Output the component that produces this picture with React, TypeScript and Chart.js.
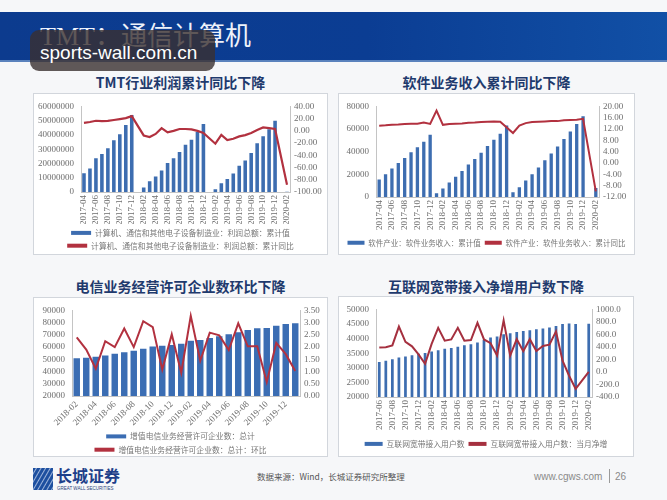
import React, { useEffect, useRef } from 'react';
import { Chart, registerables } from 'chart.js';

Chart.register(...registerables);

// ---------- Chart 1 & 2 categories ----------
const monthsA = ['2017-04','2017-05','2017-06','2017-07','2017-08','2017-09','2017-10','2017-11','2017-12','2018-01','2018-02','2018-03','2018-04','2018-05','2018-06','2018-07','2018-08','2018-09','2018-10','2018-11','2018-12','2019-01','2019-02','2019-03','2019-04','2019-05','2019-06','2019-07','2019-08','2019-09','2019-10','2019-11','2019-12','2020-01','2020-02'];

// ---------- Chart 1: TMT profit ----------
const tmtProfitCum = [13100000, 16400000, 23600000, 26700000, 30700000, 36200000, 40400000, 46900000, 54000000, null, 3100000, 7600000, 10900000, 15100000, 20400000, 23600000, 28000000, 33100000, 36700000, 42000000, 47700000, null, 2000000, 6200000, 9100000, 12900000, 18400000, 22000000, 27300000, 34200000, 39100000, 44000000, 50000000, null, 240000];
const tmtProfitYoY = [13, 14.5, 16.5, 15.8, 16.2, 17.8, 19.3, 20.8, 24, null, -7.5, -10, -5, 4.5, -2.5, 0, 3, 3, 2.5, 0, -3.5, null, -21, -6.5, -15, -13, -9, -7, -3.5, 1.5, 5.5, 4.5, 3, null, -88];
const tmtNames = ['计算机、通信和其他电子设备制造业：利润总额：累计值', '计算机、通信和其他电子设备制造业：利润总额：累计同比'];

// ---------- Chart 2: software revenue ----------
const softwareCum = [15500, 20100, 25200, 30100, 34400, 39600, 43900, 48700, 55000, 3400, 7500, 12900, 17800, 22900, 28700, 33500, 39000, 45000, 50500, 55900, 63100, 4300, 8600, 14600, 20100, 26100, 32400, 38400, 44700, 51300, 57900, 64500, 71400, null, 8000];
const softwareYoY = [13.2, 13.3, 13.5, 13.6, 13.8, 13.9, 13.9, 14.3, 13.8, 18.5, 13.5, 13.8, 13.9, 14.0, 14.2, 14.3, 14.5, 14.6, 14.7, 14.6, null, 10.6, 13.2, 14.1, 14.5, 14.6, 14.7, 14.8, 14.8, 15.1, 15.2, 15.3, 15.6, null, -10];
const softwareNames = ['软件产业：软件业务收入：累计值', '软件产业：软件业务收入：累计同比'];

// ---------- Chart 3: telecom licences ----------
const monthsC = ['2018-02','2018-03','2018-04','2018-05','2018-06','2018-07','2018-08','2018-09','2018-10','2018-11','2018-12','2019-01','2019-02','2019-03','2019-04','2019-05','2019-06','2019-07','2019-08','2019-09','2019-10','2019-11','2019-12','2020-01'];
const licenceTotal = [50800, 51300, 52100, 53100, 54500, 55800, 57100, 58700, 60500, 61000, 61800, 62800, 65200, 65700, 67500, 68800, 70400, 72200, 74000, 75400, 75600, 77500, 78800, 79400];
const licenceMoM = [2.4, 1.9, 1.12, 2.24, 2.0, 2.76, 2.0, 3.06, 2.82, 1.08, 2.52, 0.95, 3.28, 1.44, 2.59, 2.48, 1.88, 2.97, 2.03, 2.03, 0.57, 2.17, 1.71, 1.02];
const licenceNames = ['增值电信业务经营许可企业数：总计', '增值电信业务经营许可企业数：总计：环比'];

// ---------- Chart 4: broadband ----------
const monthsD = ['2017-06','2017-07','2017-08','2017-09','2017-10','2017-11','2017-12','2018-01','2018-02','2018-03','2018-04','2018-05','2018-06','2018-07','2018-08','2018-09','2018-10','2018-11','2018-12','2019-01','2019-02','2019-03','2019-04','2019-05','2019-06','2019-07','2019-08','2019-09','2019-10','2019-11','2019-12','2020-01','2020-02'];
const broadbandUsers = [32000, 32400, 32900, 33500, 33900, 34300, 34854, 35100, 35600, 36000, 36500, 36800, 37200, 37700, 38100, 38700, 39600, 40400, 40738, 41500, 41800, 42300, 42600, 42900, 43200, 43500, 43800, 44300, 45000, 45200, 45000, null, 45100];
const broadbandNetAdds = [390, 395, 425, 725, 480, 410, 280, 130, 450, 705, 500, 520, 705, 500, 510, 785, 520, 460, 262, 825, 262, 524, 331, 524, 335, 415, 436, 648, 180, -60, -270, null, 2];
const broadbandNames = ['互联网宽带接入用户数', '互联网宽带接入用户数：当月净增'];

const TICK_FONT = { family: "'Liberation Serif', 'Times New Roman', serif", size: 9 };
const LEGEND_FONT_FAMILY = "'Noto Sans CJK SC', sans-serif";
const TICK_COLOR = '#6e6e6e';
const AXIS_COLOR = '#c4c4c4';

type Spec = {
  labels: string[];
  bars: (number | null)[];
  line: (number | null)[];
  names: string[];
  barColor: string;
  lineColor: string;
  lineWidth: number;
  barPct: number;
  left: [number, number, number];
  right: [number, number, number, number];
  leftW: number;
  rightW: number;
  xH: number;
  padTop: number;
  legendMaxH: number;
  legendPad: number;
  legendFont: number;
  legendBoxW: number;
  rotation: number;
};

function buildConfig(s: Spec): any {
  const bars = s.bars;
  return {
    type: 'bar',
    data: {
      labels: s.labels,
      datasets: [
        {
          type: 'bar',
          label: s.names[0],
          data: s.bars,
          backgroundColor: s.barColor,
          borderWidth: 0,
          yAxisID: 'y',
          categoryPercentage: 0.8,
          barPercentage: s.barPct,
          order: 2,
        },
        {
          type: 'line',
          label: s.names[1],
          data: s.line,
          borderColor: s.lineColor,
          backgroundColor: s.lineColor,
          borderWidth: s.lineWidth,
          pointRadius: 0,
          tension: 0,
          spanGaps: true,
          yAxisID: 'y1',
          order: 1,
          segment: {
            borderColor: (ctx: any) => {
              for (let k = ctx.p0DataIndex + 1; k < ctx.p1DataIndex; k++) {
                if (bars[k] !== null && bars[k] !== undefined) return 'rgba(0,0,0,0)';
              }
              return s.lineColor;
            },
          },
        },
      ],
    },
    options: {
      responsive: false,
      animation: false,
      layout: { padding: { top: s.padTop, left: 0, right: 0, bottom: 0 } },
      plugins: {
        tooltip: { enabled: false },
        legend: {
          position: 'bottom',
          maxHeight: s.legendMaxH,
          labels: {
            font: { family: LEGEND_FONT_FAMILY, size: s.legendFont },
            color: '#777777',
            boxWidth: s.legendBoxW,
            boxHeight: 4,
            padding: s.legendPad,
            sort: (a: any, b: any) => a.datasetIndex - b.datasetIndex,
            generateLabels: (chart: any) =>
              Chart.defaults.plugins.legend.labels
                .generateLabels(chart)
                .map((l: any) => ({ ...l, lineWidth: 0 })),
          },
        },
      },
      scales: {
        x: {
          grid: { display: false, drawTicks: false },
          border: { display: true, color: AXIS_COLOR },
          ticks: {
            autoSkip: false,
            minRotation: s.rotation,
            maxRotation: s.rotation,
            padding: 3,
            font: TICK_FONT,
            color: TICK_COLOR,
            callback: function (this: any, v: any, i: number) {
              return i % 2 === 0 ? this.getLabelForValue(v) : '';
            },
          },
          afterFit: (sc: any) => {
            sc.height = s.xH;
          },
        },
        y: {
          position: 'left',
          min: s.left[0],
          max: s.left[1],
          grid: { display: false, drawTicks: false },
          border: { display: true, color: AXIS_COLOR },
          ticks: {
            stepSize: s.left[2],
            autoSkip: false,
            padding: 7,
            font: TICK_FONT,
            color: TICK_COLOR,
            callback: (v: any) => String(v),
          },
          afterFit: (sc: any) => {
            sc.width = s.leftW;
          },
        },
        y1: {
          position: 'right',
          min: s.right[0],
          max: s.right[1],
          grid: { display: false, drawTicks: false },
          border: { display: true, color: AXIS_COLOR },
          ticks: {
            stepSize: s.right[2],
            autoSkip: false,
            padding: 4,
            font: TICK_FONT,
            color: TICK_COLOR,
            callback: (v: any) => Number(v).toFixed(s.right[3]),
          },
          afterFit: (sc: any) => {
            sc.width = s.rightW;
          },
        },
      },
    },
  };
}

const spec1: Spec = {
  labels: monthsA, bars: tmtProfitCum, line: tmtProfitYoY, names: tmtNames,
  barColor: '#3d6db0', lineColor: '#b2313f', lineWidth: 2.2, barPct: 0.75,
  left: [0, 60000000, 10000000], right: [-100, 40, 20, 2],
  leftW: 47, rightW: 37, xH: 32, padTop: 8, legendMaxH: 30, legendPad: 5, legendFont: 7.8, legendBoxW: 20, rotation: 90,
};
const spec2: Spec = {
  labels: monthsA, bars: softwareCum, line: softwareYoY, names: softwareNames,
  barColor: '#3d6db0', lineColor: '#b2313f', lineWidth: 2, barPct: 0.65,
  left: [0, 80000, 20000], right: [-12, 20, 4, 2],
  leftW: 37, rightW: 35, xH: 38, padTop: 10, legendMaxH: 19, legendPad: 4, legendFont: 7.5, legendBoxW: 17, rotation: 90,
};
const spec3: Spec = {
  labels: monthsC, bars: licenceTotal, line: licenceMoM, names: licenceNames,
  barColor: '#3b6db3', lineColor: '#b2313f', lineWidth: 2, barPct: 0.85,
  left: [20000, 90000, 10000], right: [0, 3.5, 0.5, 2],
  leftW: 38, rightW: 27, xH: 31, padTop: 9, legendMaxH: 29, legendPad: 5.5, legendFont: 7.8, legendBoxW: 20, rotation: 45,
};
const spec4: Spec = {
  labels: monthsD, bars: broadbandUsers, line: broadbandNetAdds, names: broadbandNames,
  barColor: '#3d6db0', lineColor: '#a5303f', lineWidth: 2, barPct: 0.52,
  left: [20000, 50000, 5000], right: [-400, 1000, 200, 1],
  leftW: 37, rightW: 41, xH: 39, padTop: 10, legendMaxH: 20, legendPad: 4, legendFont: 7.8, legendBoxW: 18, rotation: 90,
};

function ChartBox(props: { spec: Spec; left: number; top: number; width: number; height: number }) {
  const { spec, left, top, width, height } = props;
  const ref = useRef<HTMLCanvasElement>(null);
  useEffect(() => {
    const chart = new Chart(ref.current as HTMLCanvasElement, buildConfig(spec));
    return () => chart.destroy();
  }, []);
  return (
    <div
      style={{
        position: 'absolute', left, top, width, height, boxSizing: 'border-box',
        border: '1px solid #d2d6dc', background: '#ffffff',
      }}
    >
      <canvas ref={ref} width={width - 2} height={height - 2} style={{ display: 'block', width: width - 2, height: height - 2 }} />
    </div>
  );
}

function PanelTitle(props: { text: string; left: number; top: number; width: number }) {
  return (
    <div
      style={{
        position: 'absolute', left: props.left, top: props.top, width: props.width, textAlign: 'center',
        fontFamily: "'Noto Sans CJK SC', sans-serif", fontWeight: 700, fontSize: 14, lineHeight: '16px',
        color: '#1f3a6d', whiteSpace: 'nowrap',
      }}
    >
      {props.text}
    </div>
  );
}

export default function App() {
  return (
    <div style={{ position: 'fixed', left: 0, top: 0, width: 667, height: 500, background: '#f6f7f9', overflow: 'hidden' }}>
      {/* header band */}
      <div style={{ position: 'absolute', left: 0, top: 12, width: 667, height: 50, background: 'linear-gradient(90deg, #0c3b8e 0%, #0b3d93 55%, #1150a6 100%)' }} />
      <div style={{ position: 'absolute', left: 0, top: 60, width: 667, height: 2, background: '#5a82bd' }} />
      <div
        style={{
          position: 'absolute', left: 40, top: 22, fontSize: 26, lineHeight: '30px', color: '#eef2fa',
          fontFamily: "'Liberation Serif', 'Noto Sans CJK SC', serif", whiteSpace: 'nowrap',
        }}
      >
        TMT：通信计算机
      </div>
      {/* watermark */}
      <div style={{ position: 'absolute', left: 30, top: 30, width: 185, height: 41, borderRadius: 9, background: 'rgba(58,48,48,0.8)' }} />
      <div
        style={{
          position: 'absolute', left: 40, top: 42, fontSize: 19, lineHeight: '22px', color: '#ffffff',
          fontFamily: "'Liberation Sans', Arial, sans-serif", whiteSpace: 'nowrap',
        }}
      >
        sports-wall.com.cn
      </div>

      {/* panels */}
      <PanelTitle text="TMT行业利润累计同比下降" left={33} top={74} width={295} />
      <ChartBox spec={spec1} left={33} top={93} width={295} height={162} />

      <PanelTitle text="软件业务收入累计同比下降" left={338} top={74} width={297} />
      <ChartBox spec={spec2} left={338} top={93} width={297} height={162} />

      <PanelTitle text="电信业务经营许可企业数环比下降" left={33} top={278} width={295} />
      <ChartBox spec={spec3} left={33} top={297} width={295} height={160} />

      <PanelTitle text="互联网宽带接入净增用户数下降" left={338} top={278} width={296} />
      <ChartBox spec={spec4} left={338} top={296} width={296} height={161} />

      {/* footer */}
      <div
        style={{
          position: 'absolute', left: 33, top: 468, width: 20, height: 22,
          background: 'repeating-linear-gradient(120deg, #1d4f9f 0px, #1d4f9f 2px, #9fb6dc 3px, #1d4f9f 4px)',
        }}
      />
      <div
        style={{
          position: 'absolute', left: 56, top: 466, fontSize: 16, lineHeight: '18px', fontWeight: 700,
          color: '#1d3f8a', fontFamily: "'Noto Sans CJK SC', sans-serif", whiteSpace: 'nowrap',
        }}
      >
        长城证券
      </div>
      <div
        style={{
          position: 'absolute', left: 57, top: 486, fontSize: 4.5, lineHeight: '5px', color: '#2a3f7a',
          fontFamily: "'Liberation Sans', sans-serif", whiteSpace: 'nowrap',
        }}
      >
        GREAT WALL SECURITIES
      </div>
      <div
        style={{
          position: 'absolute', left: 257, top: 471, fontSize: 8.5, lineHeight: '11px', color: '#555555',
          fontFamily: "'Noto Sans CJK SC', sans-serif", whiteSpace: 'nowrap',
        }}
      >
        数据来源：Wind，长城证券研究所整理
      </div>
      <div
        style={{
          position: 'absolute', left: 534, top: 470, fontSize: 10, lineHeight: '13px', color: '#8a8a8a',
          fontFamily: "'Liberation Sans', Arial, sans-serif", whiteSpace: 'nowrap',
        }}
      >
        www.cgws.com
      </div>
      <div style={{ position: 'absolute', left: 609, top: 469, width: 1, height: 14, background: '#9a9a9a' }} />
      <div
        style={{
          position: 'absolute', left: 615, top: 470, fontSize: 10, lineHeight: '13px', color: '#8a8a8a',
          fontFamily: "'Liberation Sans', Arial, sans-serif",
        }}
      >
        26
      </div>
    </div>
  );
}
